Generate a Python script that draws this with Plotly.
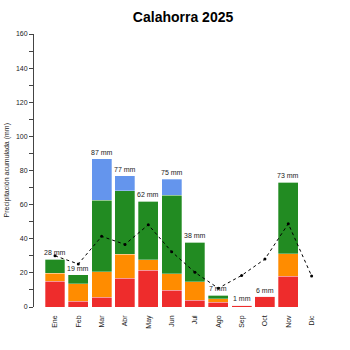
import plotly.graph_objects as go

months = ["Ene", "Feb", "Mar", "Abr", "May", "Jun", "Jul", "Ago", "Sep", "Oct", "Nov", "Dic"]
red = [15.0, 3.5, 5.6, 16.8, 21.5, 9.7, 4.1, 2.7, 1.0, 6.4, 17.9, 0]
orange = [4.7, 10.0, 15.1, 14.0, 6.2, 9.8, 10.7, 2.2, 0, 0, 13.3, 0]
green = [8.3, 5.5, 41.8, 37.4, 34.3, 46.1, 23.2, 2.1, 0, 0, 41.8, 0]
blue = [0, 0, 24.5, 8.8, 0, 9.4, 0, 0, 0, 0, 0, 0]
totals = [28, 19, 87, 77, 62, 75, 38, 7, 1, 6, 73, None]
avg = [30.0, 25.2, 41.4, 36.7, 48.2, 32.4, 20.3, 11.0, 18.5, 28.1, 48.8, 18.2]

x = list(range(12))
fig = go.Figure()
for vals, col in [(red, "#EE2C2C"), (orange, "#FF8C00"), (green, "#228B22"), (blue, "#6495ED")]:
    fig.add_trace(go.Bar(x=x, y=vals, marker=dict(color=col, line=dict(color="rgba(255,255,255,0.5)", width=0.6)),
                         hoverinfo="skip", showlegend=False))

fig.add_trace(go.Scatter(x=x, y=avg, mode="lines+markers",
                         line=dict(color="black", width=1, dash="dot"),
                         marker=dict(color="black", size=3), showlegend=False))

for i, t in enumerate(totals):
    if t is None:
        continue
    fig.add_annotation(x=i, y=t, text=f"{t} mm", showarrow=False, yanchor="bottom", yshift=1,
                       font=dict(size=7, color="#222", family="Liberation Sans, Arial"))

fig.add_annotation(x=-28/300, xref="paper", y=0.5, yref="paper", text="Precipitación acumulada (mm)",
                   textangle=-90, showarrow=False, xanchor="center", yanchor="middle",
                   font=dict(size=7, color="#222", family="Liberation Sans, Arial"))

fig.update_layout(
    width=350, height=350,
    margin=dict(l=34, r=16, t=34, b=43),
    barmode="stack", bargap=0.143,
    plot_bgcolor="white", paper_bgcolor="white",
    title=dict(text="<b>Calahorra 2025</b>", x=0.523, xanchor="center", y=0.95, yanchor="middle",
               font=dict(size=14, color="black", family="Liberation Sans, Arial")),
    font=dict(family="Liberation Sans, Arial", size=7, color="#222"),
)
fig.update_xaxes(range=[-0.9, 11.96], tickmode="array", tickvals=x, ticktext=months, tickangle=-90,
                 showline=False, showgrid=False, zeroline=False, ticks="", ticklabelstandoff=6,
                 tickfont=dict(size=7, color="#222"))
fig.update_yaxes(range=[0, 160], dtick=20, showgrid=False, zeroline=False, showline=True,
                 linecolor="#444", linewidth=1, ticks="outside", ticklen=4, tickcolor="#444",
                 minor=dict(dtick=10, ticks="outside", ticklen=4, tickcolor="#444"),
                 tickfont=dict(size=7, color="#222"))

fig.write_html("out.html")
